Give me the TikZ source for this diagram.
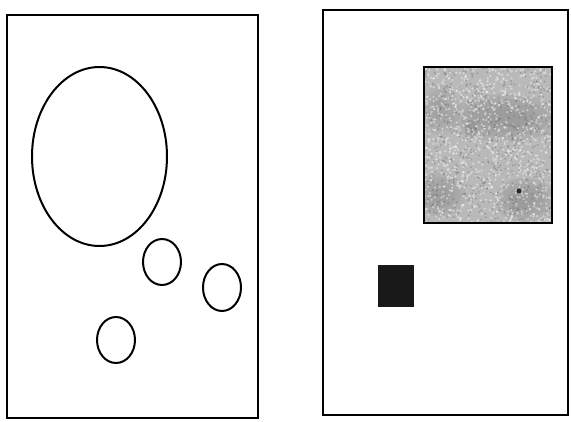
\documentclass[tikz,border=0pt]{standalone}
\usepackage{tikz}

\begin{document}
\begin{tikzpicture}[x=1pt,y=-1pt,line width=2pt]
        \def\LeftBox{(7,15) rectangle (258,418)}
        \def\RightBox{(323,10) rectangle (568,415)}
        \def\Grain{(424,67) rectangle (552,223)}
        \def\Patch{(378,265) rectangle (414,307)}
        \useasboundingbox (0,0) rectangle (571,421);

        \draw \LeftBox;
        \draw (99.5,156.5) ellipse (67.5 and 89.5);
        \draw (162,262) ellipse (19 and 23);
        \draw (222,287.5) ellipse (19 and 23.5);
        \draw (116,340) ellipse (19 and 23);

        \draw \RightBox;
        \begin{scope}
            \clip \Grain;
            \fill[gray!55] \Grain;
            % soft darker clouds
            \foreach \s in {1,0.8,0.6,0.4} {
                \fill[gray!95,opacity=0.18] (505,118) ellipse ({55*\s} and {24*\s});
                \fill[gray!95,opacity=0.16] (440,195) ellipse ({26*\s} and {22*\s});
                \fill[gray!95,opacity=0.18] (525,200) ellipse ({30*\s} and {22*\s});
                \fill[gray!95,opacity=0.12] (440,110) ellipse ({20*\s} and {25*\s});
            }
            \fill[gray!95,opacity=0.45] (471,129) ellipse (6 and 9);
            \pgfmathsetseed{11}
            \foreach \i in {1,...,1000} {
                \pgfmathsetmacro{\px}{424+128*rnd}
                \pgfmathsetmacro{\py}{67+156*rnd}
                \fill[white,opacity=0.45] (\px,\py) circle (1.2);
            }
            \foreach \i in {1,...,600} {
                \pgfmathsetmacro{\px}{424+128*rnd}
                \pgfmathsetmacro{\py}{67+156*rnd}
                \fill[black!70,opacity=0.3] (\px,\py) circle (1);
            }
            \fill[black!85] (519,191) circle (2.5);
        \end{scope}
        \draw \Grain;
        \fill[black!90] \Patch;
    \end{tikzpicture}
\end{document}
